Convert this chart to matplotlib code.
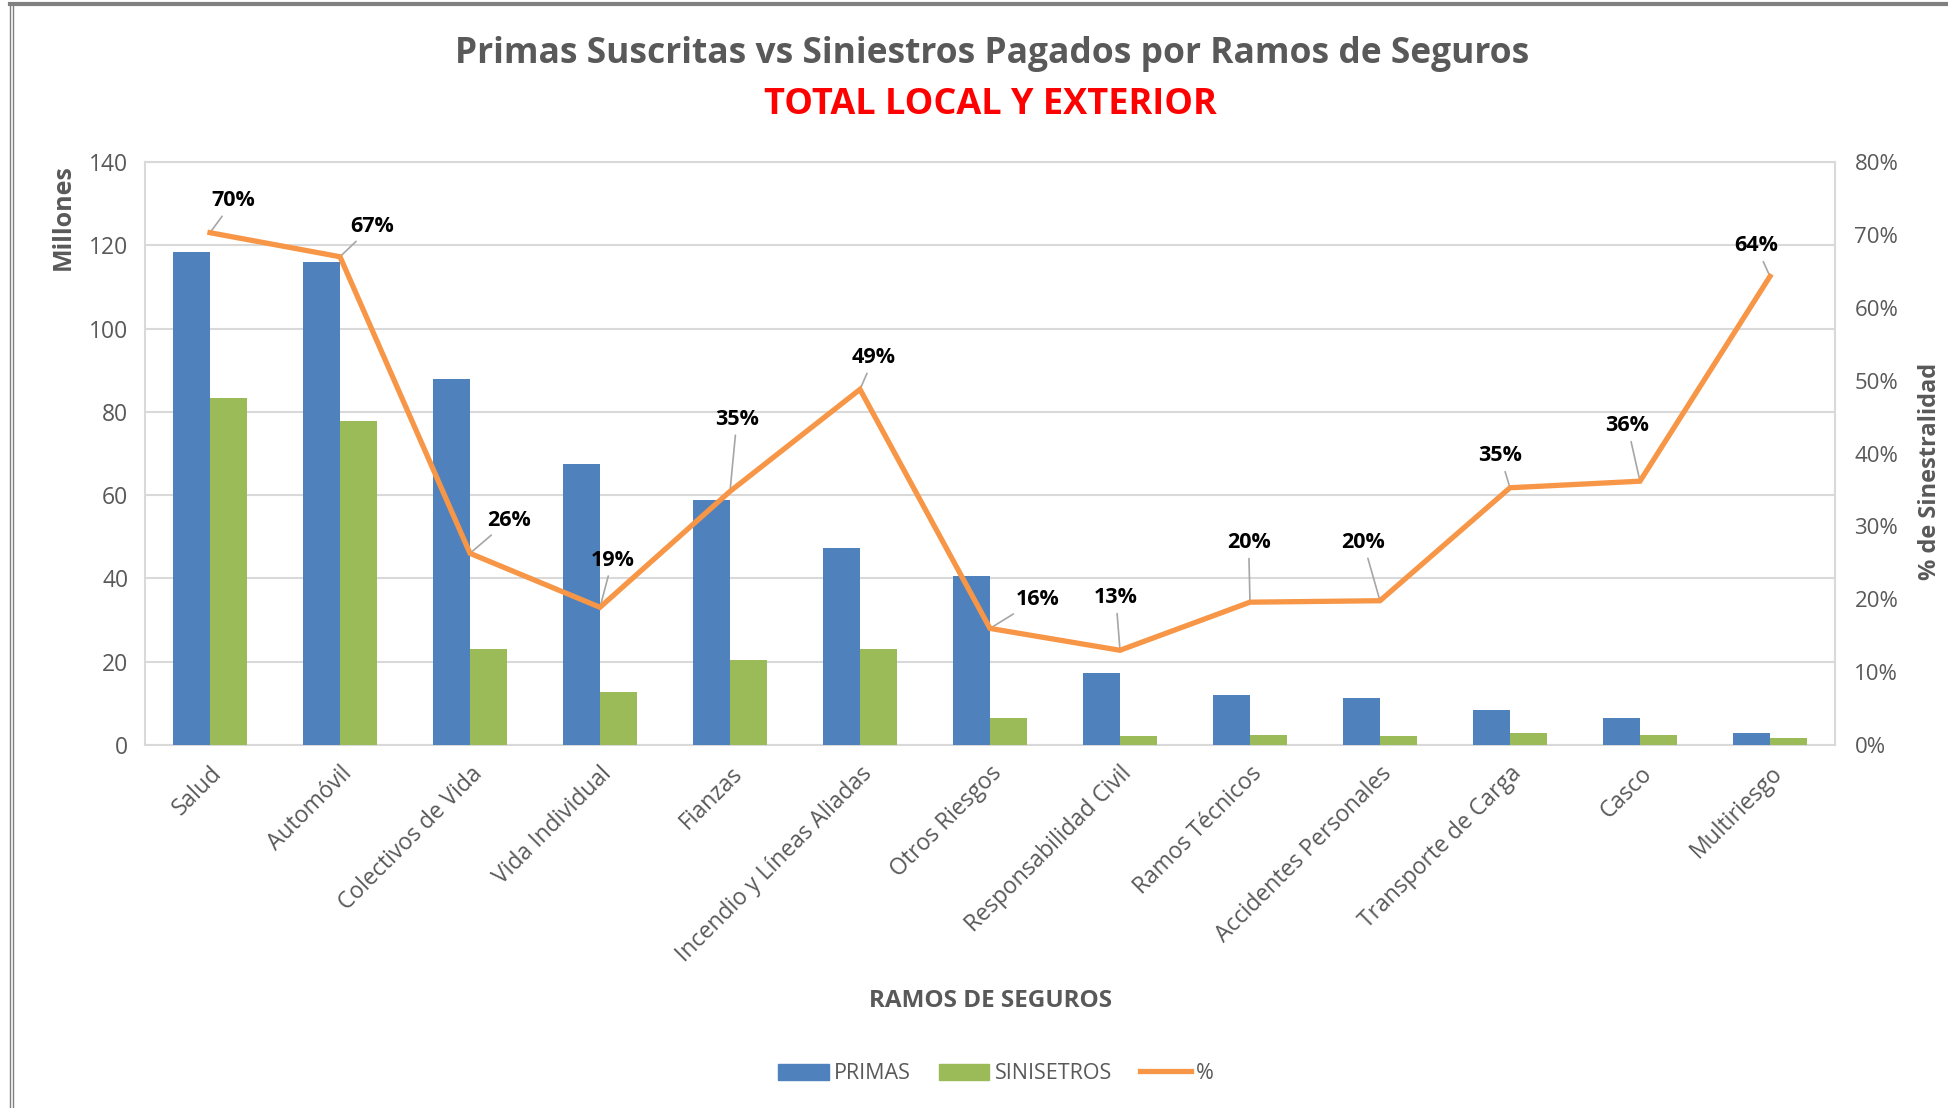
import matplotlib
matplotlib.use("Agg")
import matplotlib.pyplot as plt
from matplotlib.lines import Line2D
from matplotlib.patches import Patch
from matplotlib.ticker import FuncFormatter
import numpy as np

plt.rcParams["font.family"] = ["Open Sans", "DejaVu Sans"]

categorias = ["Salud", "Automóvil", "Colectivos de Vida", "Vida Individual", "Fianzas",
              "Incendio y Líneas Aliadas", "Otros Riesgos", "Responsabilidad Civil",
              "Ramos Técnicos", "Accidentes Personales", "Transporte de Carga",
              "Casco", "Multiriesgo"]
primas = [118.5, 116.1, 87.8, 67.5, 58.8, 47.2, 40.7, 17.2, 12.1, 11.4, 8.4, 6.6, 2.9]
siniestros = [83.3, 77.9, 23.0, 12.8, 20.3, 23.0, 6.5, 2.2, 2.3, 2.2, 3.0, 2.3, 1.8]
pct = [70.3, 67.0, 26.3, 18.9, 34.8, 48.8, 16.0, 13.0, 19.6, 19.8, 35.3, 36.2, 64.3]
pct_labels = ["70%", "67%", "26%", "19%", "35%", "49%", "16%", "13%",
              "20%", "20%", "35%", "36%", "64%"]
# label offsets in points (dx, dy) from each line point
offsets = [(17, 23), (23, 22), (28, 24), (9, 34), (5, 52), (10, 23), (34, 21),
           (-3, 38), (-1, 43), (-12, 42), (-7, 23), (-9, 40), (-10, 22)]

BLUE = "#4F81BD"
GREEN = "#9BBB59"
ORANGE = "#F79646"
GRID = "#D9D9D9"
TXT = "#595959"

fig = plt.figure(figsize=(19.49, 11.08), dpi=100)
ax = fig.add_axes([0.0744, 0.3276, 0.9415 - 0.0744, 0.8538 - 0.3276])

x = np.arange(len(categorias))
w = 0.287
ax.bar(x - w / 2, primas, width=w, color=BLUE, zorder=3)
ax.bar(x + w / 2, siniestros, width=w, color=GREEN, zorder=3)
ax.set_xlim(-0.5, len(categorias) - 0.5)
ax.set_ylim(0, 140)
ax.set_yticks(range(0, 141, 20))
ax.grid(axis="y", color=GRID, linewidth=1.5, zorder=0)
ax.set_axisbelow(True)
for s in ax.spines.values():
    s.set_color(GRID)
    s.set_linewidth(1.5)
ax.tick_params(length=0, colors=TXT, labelsize=16.5, pad=12)
ax.set_xticks(x)
ax.set_xticklabels(categorias, rotation=45, ha="right", rotation_mode="anchor",
                   fontsize=16.5, color=TXT)
ax.tick_params(axis="x", pad=12)
ax.set_ylabel("Millones", fontsize=18, fontweight="bold", color=TXT)
ax.yaxis.set_label_coords(-0.041, 0.905)

ax2 = ax.twinx()
ax2.plot(x, pct, color=ORANGE, linewidth=3.8, zorder=4, solid_joinstyle="miter")
ax2.set_ylim(0, 80)
ax2.set_yticks(range(0, 81, 10))
ax2.yaxis.set_major_formatter(FuncFormatter(lambda v, _: f"{v:.0f}%"))
ax2.tick_params(length=0, colors=TXT, labelsize=16, pad=14)
for s in ax2.spines.values():
    s.set_visible(False)
ax2.set_ylabel("% de Sinestralidad", fontsize=17, fontweight="bold", color=TXT)
ax2.yaxis.set_label_coords(1.049, 0.47)

for xi, yi, lab, off in zip(x, pct, pct_labels, offsets):
    ax2.annotate(lab, xy=(xi, yi), xytext=off, textcoords="offset points",
                 ha="center", va="center", fontsize=15.5, fontweight="bold", color="black",
                 arrowprops=dict(arrowstyle="-", color="#A6A6A6", lw=1.2,
                                 shrinkA=2, shrinkB=0))

fig.text(0.509, 0.951, "Primas Suscritas vs Siniestros Pagados por Ramos de Seguros",
         ha="center", va="center", fontsize=25.5, fontweight="bold", color=TXT)
fig.text(0.508, 0.905, "TOTAL LOCAL Y EXTERIOR", ha="center", va="center",
         fontsize=26, fontweight="bold", color="#FF0000")
fig.text(0.508, 0.0965, "RAMOS DE SEGUROS", ha="center", va="center",
         fontsize=17.5, fontweight="bold", color=TXT)

handles = [Patch(color=BLUE), Patch(color=GREEN), Line2D([], [], color=ORANGE, lw=3.8)]
fig.legend(handles, ["PRIMAS", "SINISETROS", "%"], loc="center", ncol=3,
           bbox_to_anchor=(0.511, 0.031), frameon=False, fontsize=15.5,
           labelcolor=TXT, handlelength=2.35, handleheight=0.75, columnspacing=1.3,
           handletextpad=0.25)

# outer frame
fig.add_artist(Line2D([0.005, 1.0], [0.996, 0.996], color="#808080", lw=3,
                      transform=fig.transFigure))
fig.add_artist(Line2D([0.005, 0.005], [0, 0.996], color="#808080", lw=1,
                      transform=fig.transFigure))
fig.add_artist(Line2D([0.0065, 0.0065], [0, 0.996], color="#808080", lw=1,
                      transform=fig.transFigure))

fig.savefig("out.png", dpi=100, facecolor="white")
